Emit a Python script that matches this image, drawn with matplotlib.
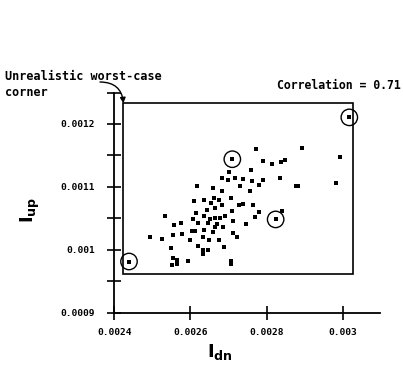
import numpy as np
import matplotlib.pyplot as plt
from matplotlib.patches import Rectangle
from matplotlib.ticker import FixedLocator

# I_dn and I_up values (x1e-6)
i_dn = [2438.6, 3016.9, 2709.8, 2823.5, 2772.0, 2891.8, 2992.4, 2789.4, 2814.8, 2837.5,
        2848.0, 2758.0, 2701.1, 2681.8, 2699.3, 2716.8, 2738.7, 2760.6, 2791.2, 2780.7,
        2834.9, 2876.9, 2981.0, 2617.9, 2659.9, 2729.9, 2756.2, 2681.8, 2609.2, 2635.4,
        2661.7, 2675.7, 2705.4, 2652.9, 2664.3, 2681.8, 2728.2, 2738.7, 2764.9, 2642.4,
        2614.4, 2709.8, 2780.7, 2839.3, 2769.3, 2533.1, 2607.4, 2635.4, 2651.2, 2664.3,
        2677.4, 2690.6, 2620.6, 2646.8, 2670.4, 2710.7, 2745.7, 2574.2, 2557.6, 2686.2,
        2664.3, 2555.0, 2576.8, 2603.1, 2611.8, 2635.4, 2658.2, 2712.4, 2721.2, 2493.7,
        2524.3, 2598.7, 2633.7, 2649.4, 2675.7, 2547.9, 2620.6, 2631.9, 2646.8, 2633.7,
        2687.9, 2553.2, 2563.7, 2550.6, 2565.4, 2594.3, 2705.4, 2705.4, 2882.0]
i_up = [981.4, 1210.5, 1144.0, 1048.3, 1160.0, 1161.6, 1147.7, 1140.8, 1137.1, 1139.8,
        1143.5, 1126.5, 1123.8, 1114.2, 1110.5, 1114.2, 1113.2, 1109.5, 1110.5, 1102.6,
        1114.2, 1101.0, 1106.3, 1101.0, 1098.8, 1101.0, 1093.5, 1093.5, 1077.6, 1079.7,
        1082.9, 1079.7, 1082.4, 1074.4, 1066.9, 1070.7, 1070.7, 1072.3, 1070.7, 1063.8,
        1058.4, 1061.1, 1060.0, 1061.1, 1052.1, 1053.1, 1049.4, 1053.1, 1048.3, 1051.0,
        1051.0, 1053.1, 1042.5, 1043.0, 1041.4, 1045.7, 1041.4, 1042.5, 1038.8, 1036.1,
        1036.1, 1022.8, 1024.4, 1029.7, 1029.7, 1031.9, 1028.1, 1026.5, 1020.2, 1020.2,
        1016.4, 1015.9, 1020.2, 1015.9, 1015.9, 1003.1, 1005.8, 999.9, 998.9, 993.6,
        1004.2, 987.2, 984.0, 976.6, 977.6, 982.9, 982.9, 977.6, 1101.0]

# circled points
circ_dn = [2438.6, 3016.9, 2709.8, 2823.5]
circ_up = [981.4, 1210.5, 1144.0, 1048.3]

# corner box
box_dn = [2421.9, 3027.4]
box_up = [961.7, 1232.8]

x_ticks = [0.0024, 0.0026, 0.0028, 0.003]
x_labels = ['0.0024', '0.0026', '0.0028', '0.003']
y_ticks = [0.0009, 0.001, 0.0011, 0.0012]
y_labels = ['0.0009', '0.001', '0.0011', '0.0012']
y_minor = [0.00095, 0.00105, 0.00115, 0.00125]

mono = 'DejaVu Sans Mono'

fig = plt.figure(figsize=(4.03, 3.66), dpi=100)
ax = fig.add_axes([0.2836, 0.1456, 0.6593, 0.6016])

x = np.array(i_dn) * 1e-6
y = np.array(i_up) * 1e-6
ax.scatter(x, y, marker='s', s=11, color='black', linewidths=0, zorder=3)
ax.scatter(np.array(circ_dn) * 1e-6, np.array(circ_up) * 1e-6, marker='o', s=140,
           facecolors='none', edgecolors='black', linewidths=1.0, zorder=4)

bx0, bx1 = box_dn[0] * 1e-6, box_dn[1] * 1e-6
by0, by1 = box_up[0] * 1e-6, box_up[1] * 1e-6
ax.add_patch(Rectangle((bx0, by0), bx1 - bx0, by1 - by0, fill=False,
                       edgecolor='black', linewidth=1.2, zorder=2))

ax.set_xlim(0.0024, 0.0030974)
ax.set_ylim(0.0009, 0.00125)
for s in ['top', 'right']:
    ax.spines[s].set_visible(False)
for s in ['left', 'bottom']:
    ax.spines[s].set_linewidth(1.3)

ax.set_xticks(x_ticks)
ax.set_xticklabels(x_labels, fontfamily=mono, fontweight='bold', fontsize=6.8)
ax.set_yticks(y_ticks)
ax.set_yticklabels(y_labels, fontfamily=mono, fontweight='bold', fontsize=6.8)
ax.yaxis.set_minor_locator(FixedLocator(y_minor))
ax.tick_params(axis='both', which='both', direction='inout', length=9.5, width=1.2)
ax.tick_params(axis='y', which='major', pad=9)
ax.tick_params(axis='x', which='major', pad=6)

fig.text(220 / 403, 1 - 352 / 366, r'I$_{\mathbf{dn}}$', ha='center', va='center',
         fontsize=13, fontweight='bold')
fig.text(30 / 403, 1 - 210 / 366, r'I$_{\mathbf{up}}$', ha='center', va='center',
         fontsize=13, fontweight='bold', rotation=90)

fig.text(5 / 403, 1 - 70 / 366, 'Unrealistic worst-case\ncorner', ha='left', va='top',
         fontfamily=mono, fontweight='bold', fontsize=8.5, linespacing=1.25)
fig.text(401 / 403, 1 - 79 / 366, 'Correlation = 0.71', ha='right', va='top',
         fontfamily=mono, fontweight='bold', fontsize=8.3)

ax.annotate('', xy=(bx0 + 0.000002, by1), xycoords='data',
            xytext=(100 / 403, 1 - 82 / 366), textcoords='figure fraction',
            arrowprops=dict(arrowstyle='-|>', color='black', lw=1.0,
                            mutation_scale=8, shrinkA=0, shrinkB=0,
                            connectionstyle='arc3,rad=-0.45'),
            annotation_clip=False)

fig.savefig('out.png', dpi=100)
